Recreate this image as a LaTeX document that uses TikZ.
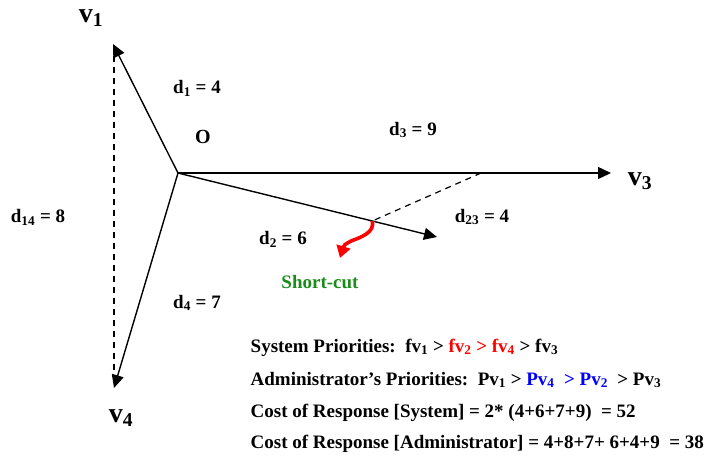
\documentclass[tikz,border=0pt]{standalone}
\usepackage{fontspec}
\setmainfont{Liberation Serif}
\usepackage{tikz}
\usetikzlibrary{arrows.meta,calc}
\definecolor{CutGreen}{HTML}{1A8C1A}

\begin{document}
\begin{tikzpicture}[x=1pt,y=-1pt,>={Triangle[length=13pt,width=12pt]},line width=1.4pt,
 font=\fontsize{19}{22}\selectfont\bfseries,
 lbl/.style={inner sep=0pt},
 vlbl/.style={inner sep=0pt,font=\fontsize{28}{30}\selectfont\bfseries},
 txt/.style={anchor=base west,inner sep=0pt},
 dsh/.style={line width=1.2pt,dash pattern=on 6pt off 5pt}]
\useasboundingbox (0,0) rectangle (710,463);
\coordinate (o) at (178,173);
\coordinate (v1) at (113,44);
\coordinate (v2) at (437,237);
\coordinate (v3) at (611,173);
\coordinate (v4) at (114,388);
\coordinate (top14) at (114,56);
\coordinate (bot14) at (114,372);
\coordinate (mid3) at (481,173);
\coordinate (sc) at ($(o)!0.75!(v2)$);
\coordinate (sctip) at (340,258);
\draw[->] (o)--(v1);
\draw[->] (o)--(v2);
\draw[->] (o)--(v3);
\draw[->] (o)--(v4);
\draw[dsh] (top14)--(bot14);
\draw[dsh] (mid3)--(sc);
\draw[red,line width=3.6pt,-{Triangle[length=12pt,width=14pt]}]
 (sc) .. controls (375,232) and (362,237) .. (351,241) .. controls (344,245) .. (sctip);
\node[vlbl] (lv1) at (91,18) {v\textsubscript{1}};
\node[vlbl] (lv3) at (640,181) {v\textsubscript{3}};
\node[vlbl] (lv4) at (121,418) {v\textsubscript{4}};
\node[lbl] (lo) at (203,137) {\fontsize{20}{22}\selectfont O};
\node[lbl] (ld1) at (197,88) {d\textsubscript{1} = 4};
\node[lbl] (ld3) at (413,130) {d\textsubscript{3} = 9};
\node[lbl] (ld23) at (482,217) {d\textsubscript{23} = 4};
\node[lbl] (ld14) at (38,217) {d\textsubscript{14} = 8};
\node[lbl] (ld2) at (283,239) {d\textsubscript{2} = 6};
\node[lbl] (ld4) at (197,303) {d\textsubscript{4} = 7};
\node[lbl,text=CutGreen] (lcut) at (320,282) {Short-cut};
\node[txt] (sys) at (250,352) {System Priorities:\ \ fv\textsubscript{1} > \textcolor{red}{fv\textsubscript{2} > fv\textsubscript{4}} > fv\textsubscript{3}};
\node[txt] (adm) at (250,385) {Administrator’s Priorities:\ \ Pv\textsubscript{1} > \textcolor{blue}{Pv\textsubscript{4}\ \ > Pv\textsubscript{2}}\ \ > Pv\textsubscript{3}};
\node[txt] (csys) at (250,417) {Cost of Response [System] = 2* (4+6+7+9)\ \ = 52};
\node[txt] (cadm) at (250,448) {Cost of Response [Administrator] = 4+8+7+ 6+4+9\ \ = 38};
\end{tikzpicture}
\end{document}
